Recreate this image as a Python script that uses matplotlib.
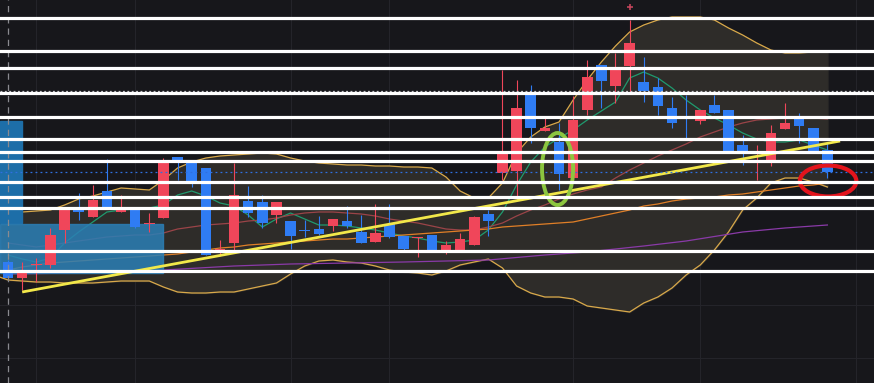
import numpy as np
import matplotlib
matplotlib.use("Agg")
import matplotlib.pyplot as plt
from matplotlib.patches import Ellipse, Rectangle

# 일봉 OHLC (가격 단위는 화면 기준 임의 스케일)
opens = [121, 105, 118, 118, 153, 173, 166, 192, 171, 173, 159, 165, 226, 220, 215, 131,
         140, 182, 181, 168, 162, 153, 154, 157, 162, 151, 141, 159, 147, 145, 148, 133,
         133, 138, 169, 210, 212, 288, 252, 241, 205, 273, 318, 297, 317, 301, 296, 275,
         266, 262, 278, 273, 238, 222, 223, 254, 265, 255, 233]
highs = [123, 121, 125, 155, 176, 190, 198, 224, 188, 173, 170, 225, 226, 220, 215, 143,
         220, 197, 188, 181, 162, 163, 167, 164, 177, 168, 179, 179, 147, 146, 148, 142,
         150, 167, 173, 313, 303, 298, 265, 260, 287, 323, 318, 330, 363, 326, 305, 286,
         288, 273, 288, 273, 248, 238, 258, 280, 270, 255, 240]
lows = [103, 93, 101, 115, 140, 163, 166, 176, 171, 155, 151, 165, 203, 196, 128, 127,
        133, 166, 155, 160, 134, 146, 148, 152, 155, 140, 141, 145, 133, 126, 133, 129,
        133, 138, 147, 203, 183, 240, 252, 193, 205, 268, 275, 280, 291, 281, 268, 255,
        245, 259, 270, 231, 218, 203, 217, 254, 240, 231, 205]
closes = [105, 111, 119, 148, 173, 171, 183, 176, 173, 156, 160, 223, 223, 202, 128, 134,
          188, 170, 160, 181, 147, 152, 149, 164, 157, 140, 150, 146, 134, 146, 133, 138,
          144, 166, 162, 229, 275, 255, 255, 209, 263, 306, 302, 313, 340, 292, 277, 260,
          265, 273, 270, 231, 232, 223, 250, 260, 257, 232, 211]

# 볼린저 밴드
bb_upper = [171, 171, 172, 173, 178, 184, 187, 191, 195, 194, 193, 203, 215, 221, 225, 227,
            228, 229, 230, 229, 225, 222, 220, 219, 218, 218, 217, 217, 216, 216, 215, 206,
            192, 185, 185, 200, 230, 246, 256, 261, 283, 303, 321, 337, 351, 358, 363, 366,
            366, 366, 363, 355, 348, 340, 333, 330, 330, 331, 331]
bb_lower = [103, 102, 101, 101, 100, 100, 100, 101, 102, 102, 102, 96, 91, 90, 90, 91,
            91, 94, 97, 100, 109, 117, 122, 123, 121, 120, 117, 113, 111, 110, 108, 112,
            118, 121, 124, 115, 97, 90, 86, 86, 84, 77, 75, 73, 71, 80, 86, 95,
            108, 118, 133, 151, 173, 185, 200, 205, 205, 201, 196]

# 이동평균선
ma_short = [128, 124, 121, 125, 140, 151, 161, 171, 173, 174, 175, 178, 188, 192, 187, 180,
            177, 168, 156, 164, 170, 164, 158, 158, 157, 155, 153, 150, 147, 145, 142, 140,
            141, 143, 153, 171, 198, 221, 236, 245, 253, 263, 272, 281, 305, 311, 305, 295,
            283, 273, 265, 258, 250, 244, 241, 241, 243, 238, 233]
ma_mid = [140, 138, 136, 138, 140, 142, 144, 146, 147, 148, 148, 150, 154, 156, 158, 159,
          160, 162, 163, 165, 168, 170, 171, 171, 170, 169, 167, 164, 162, 160, 157, 154,
          153, 153, 156, 160, 167, 173, 178, 184, 189, 193, 196, 205, 213, 220, 227, 233,
          239, 246, 251, 256, 260, 263, 264, 265, 266, 265, 264]
ma_long = [113, 116, 118, 120, 121, 122, 123, 124, 125, 126, 127, 128, 129, 131, 133, 135,
           136, 138, 139, 140, 141, 142, 143, 144, 144, 145, 146, 147, 148, 149, 150, 151,
           152, 153, 154, 156, 157, 158, 159, 160, 161, 164, 167, 170, 173, 177, 179, 182,
           184, 185, 186, 188, 189, 191, 193, 195, 197, 198, 200]
ma_xlong_idx = [0, 5, 11, 16, 20, 24, 28, 34, 38, 41, 45, 48, 52, 55, 58]
ma_xlong = [109, 110, 113, 117, 119, 120, 121, 123, 128, 131, 137, 142, 151, 155, 158]

# 수평 지지/저항선
levels = [365, 332, 315, 290, 266, 244, 231, 222, 201, 186, 175, 132, 112]
dotted_white = 292
dotted_blue = 211

# 추세선 (시작 인덱스, 가격) -> (끝 인덱스, 가격)
trend_x = [1.0, 58.9]
trend_y = [91, 242]

# 박스 영역
box_top = (1.0, 160, 262)     # 끝 인덱스, 하단, 상단
box_low = (11.0, 110, 159)

BG = "#17171b"
UP = "#f0465a"
DOWN = "#2f7cf3"

n = len(opens)
x = np.arange(n)

fig = plt.figure(figsize=(8.74, 3.83), dpi=100)
fig.patch.set_facecolor(BG)
ax = fig.add_axes([0, 0, 1, 1])
ax.set_facecolor(BG)
ax.set_xlim(-0.57, 61.3)
ax.set_ylim(0, 383)
ax.axis("off")

# 희미한 격자
for gx in [2, 9, 20, 27, 40, 49, 60]:
    ax.axvline(gx, color="#24242a", lw=0.8, zorder=0)
for gy in [78, 25]:
    ax.axhline(gy, color="#24242a", lw=0.8, zorder=0)

# 볼린저 밴드
xb = np.concatenate([[-0.6], x])
up_b = np.concatenate([[bb_upper[0]], bb_upper])
lo_b = np.concatenate([[bb_lower[0] + 3], bb_lower])
ax.fill_between(xb, lo_b, up_b, color="#2e2c29", zorder=1)
ax.plot(xb, up_b, color="#d9a94a", lw=0.9, zorder=2)
ax.plot(xb, lo_b, color="#d9a94a", lw=0.9, zorder=2)

# 이동평균선
ax.plot(x, ma_short, color="#1f9a6e", lw=0.9, zorder=3)
ax.plot(x, ma_mid, color="#9b4448", lw=0.9, zorder=3)
ax.plot(x, ma_long, color="#e07f27", lw=0.9, zorder=3)
ax.plot(ma_xlong_idx, ma_xlong, color="#8a3aa8", lw=0.9, zorder=3)

# 박스
ax.add_patch(Rectangle((-0.6, box_top[1]), box_top[0] + 0.6, box_top[2] - box_top[1],
                       color="#1d6ea8", zorder=4))
ax.add_patch(Rectangle((-0.6, box_low[1]), box_low[0] + 0.6, box_low[2] - box_low[1],
                       color="#2b7fb6", alpha=0.85, zorder=4))

# 캔들
o = np.array(opens); c = np.array(closes)
h = np.array(highs); l = np.array(lows)
cols = [UP if cc >= oo else DOWN for oo, cc in zip(o, c)]
ax.vlines(x, l, h, colors=cols, lw=0.8, zorder=5)
body_bot = np.minimum(o, c)
body_h = np.maximum(np.abs(c - o), 1.2)
ax.bar(x, body_h, bottom=body_bot, width=0.75, color=cols, zorder=6)

# 추세선
ax.plot(trend_x, trend_y, color="#f2e84a", lw=2.0, solid_capstyle="butt", zorder=7)

# 점선 및 세로 점선
ax.axvline(0, color="#8a8a90", lw=0.9, ls=(0, (5, 4)), zorder=7)
ax.axhline(dotted_blue, color="#2f6fe0", lw=0.9, ls=(0, (1.5, 2.5)), zorder=7)
ax.axhline(dotted_white, color="#c8c8cc", lw=0.9, ls=(0, (1.5, 2)), zorder=7)

# 강조 타원
ax.add_patch(Ellipse((38.9, 214), 2.2, 72, fill=False, ec="#8cc63f", lw=2.8, zorder=8))
ax.add_patch(Ellipse((58.05, 202), 4.0, 31, fill=False, ec="#e3141c", lw=3.0, zorder=8))

# 수평선
for lv in levels:
    ax.axhline(lv, color="white", lw=2.3, zorder=9)

# 상단 마커
ax.plot([44], [376], marker="+", color="#c0445a", ms=5, mew=1.2, zorder=9)

fig.savefig("out.png", dpi=100, facecolor=BG)
